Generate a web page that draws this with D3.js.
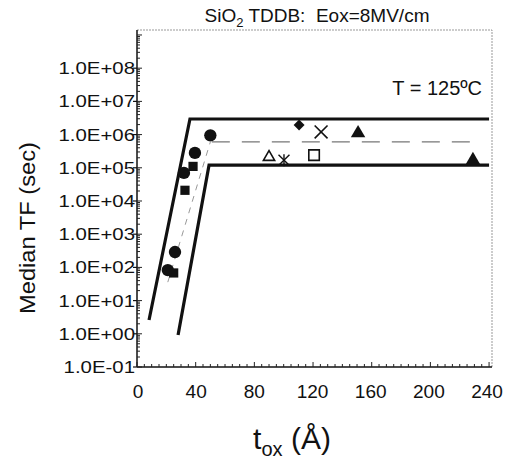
<!DOCTYPE html>
<html><head><meta charset="utf-8">
<script src="https://cdn.jsdelivr.net/npm/d3@7"></script>
<style>body{margin:0;background:#fff}svg{display:block}text{font-family:"Liberation Sans",Arial,sans-serif;fill:#111}</style>
</head><body><svg id="c" width="505" height="461"></svg>
<script>
// ---- data ----
const xTicks = [0, 40, 80, 120, 160, 200, 240];
const yTickExps = [-1, 0, 1, 2, 3, 4, 5, 6, 7, 8];
const yTickLabels = ["1.0E-01","1.0E+00","1.0E+01","1.0E+02","1.0E+03","1.0E+04","1.0E+05","1.0E+06","1.0E+07","1.0E+08"];

const filledCircles = [[50, 9.5e5], [39.5, 2.8e5], [32, 7e4], [25.9, 290], [21, 83]];
const filledSquares = [[38.2, 1.1e5], [32.7, 2.1e4], [25, 68]];
const filledDiamonds = [[110.5, 1.95e6]];
const crosses = [[125.5, 1.2e6]];
const filledTriangles = [[150.7, 1.1e6], [229, 1.7e5]];
const openTriangles = [[90, 2.1e5]];
const asterisks = [[100.2, 1.7e5]];
const openSquares = [[120.7, 2.4e5]];

const upperBound = [[8.2, 2.6], [36.1, 2.95e6], [240, 2.95e6]];
const lowerBound = [[28, 0.92], [49.1, 1.2e5], [240, 1.2e5]];
const medianSlope = [[21, 36], [50, 6e5]];
const medianFlat = [[51, 6e5], [228, 6e5]];

// ---- layout ----
const svg = d3.select("#c");
const L = 137, R = 492, T = 30, B = 367;
const x = d3.scaleLinear().domain([0, 242]).range([L, R]);
const y = d3.scaleLog().domain([0.1, Math.pow(10, 9.15)]).range([B, T]);

// frame (faint top/right)
svg.append("path").attr("d", `M${L},${T}H${R}V${B}`)
  .attr("fill", "none").attr("stroke", "#999").attr("stroke-width", 1).attr("stroke-dasharray", "2,1");

// axes
svg.append("line").attr("x1", L).attr("x2", L).attr("y1", T).attr("y2", B).attr("stroke", "#111").attr("stroke-width", 1.5);
svg.append("line").attr("x1", L).attr("x2", R).attr("y1", B).attr("y2", B).attr("stroke", "#111").attr("stroke-width", 1.5);

// y minor ticks
const yMinor = [];
for (let e = -1; e <= 9; e++) for (let m = 1; m <= 9; m++) { const v = m * Math.pow(10, e); if (v >= 0.1 && v <= Math.pow(10, 9.15)) yMinor.push(v); }
svg.append("g").selectAll("line").data(yMinor).join("line")
  .attr("x1", L).attr("x2", d => L + (Math.abs(Math.log10(d) % 1) < 1e-9 ? 5 : 3))
  .attr("y1", d => y(d)).attr("y2", d => y(d)).attr("stroke", "#222").attr("stroke-width", 1);
svg.append("g").selectAll("line").data(yTickExps).join("line")
  .attr("x1", L - 4).attr("x2", L).attr("y1", d => y(Math.pow(10, d))).attr("y2", d => y(Math.pow(10, d)))
  .attr("stroke", "#111").attr("stroke-width", 1.2);

// x minor ticks
svg.append("g").selectAll("line").data(d3.range(0, 241, 5)).join("line")
  .attr("x1", d => x(d)).attr("x2", d => x(d)).attr("y1", B).attr("y2", d => B - (d % 40 === 0 ? 5 : 3))
  .attr("stroke", "#222").attr("stroke-width", 1);

// y tick labels
svg.append("g").selectAll("text").data(yTickExps).join("text")
  .attr("transform", d => `translate(${L - 2},${y(Math.pow(10, d)) + 6}) scale(1.2,1)`)
  .attr("text-anchor", "end").attr("font-size", 17)
  .text((d, i) => yTickLabels[i]);

// x tick labels
svg.append("g").selectAll("text").data(xTicks).join("text")
  .attr("transform", d => `translate(${x(d) + 1 - d / 80},398) scale(1.06,1)`)
  .attr("text-anchor", "middle").attr("font-size", 18).text(d => d);

// title
const title = svg.append("text").attr("x", 317).attr("y", 22).attr("text-anchor", "middle").attr("font-size", 19);
title.append("tspan").text("SiO");
title.append("tspan").attr("font-size", 13).attr("dy", 5).text("2");
title.append("tspan").attr("dy", -5).text(" TDDB:\u00a0 Eox=8MV/cm");

// T label
svg.append("text").attr("x", 482).attr("y", 95).attr("text-anchor", "end").attr("font-size", 20).text("T = 125ºC");

// y axis label
svg.append("text").attr("transform", "translate(35,228) rotate(-90)").attr("text-anchor", "middle")
  .attr("font-size", 22).attr("textLength", 172).attr("lengthAdjust", "spacingAndGlyphs").text("Median TF (sec)");

// x axis label
const xl = svg.append("text").attr("x", 292).attr("y", 449).attr("text-anchor", "middle").attr("font-size", 30);
xl.append("tspan").text("t");
xl.append("tspan").attr("font-size", 20).attr("dy", 7).text("ox");
xl.append("tspan").attr("dy", -7).text(" (Å)");

// lines
const line = d3.line().x(d => x(d[0])).y(d => y(d[1]));
svg.append("path").attr("d", line(medianSlope)).attr("fill", "none").attr("stroke", "#999").attr("stroke-width", 1).attr("stroke-dasharray", "6,6");
svg.append("path").attr("d", line(medianFlat)).attr("fill", "none").attr("stroke", "#777").attr("stroke-width", 1.2).attr("stroke-dasharray", "18,12");
svg.append("path").attr("d", line(upperBound)).attr("fill", "none").attr("stroke", "#111").attr("stroke-width", 3.2);
svg.append("path").attr("d", line(lowerBound)).attr("fill", "none").attr("stroke", "#111").attr("stroke-width", 3.2);

// markers
const g = svg.append("g");
const sym = (data, type, size, fill, stroke, sw, rot) => g.append("g").selectAll("path").data(data).join("path")
  .attr("transform", d => `translate(${x(d[0])},${y(d[1])})` + (rot ? ` rotate(${rot})` : ""))
  .attr("d", d3.symbol().type(type).size(size)).attr("fill", fill).attr("stroke", stroke).attr("stroke-width", sw);
sym(filledCircles, d3.symbolCircle, 120, "#111", "none", 0);
sym(filledSquares, d3.symbolSquare, 85, "#111", "none", 0);
sym(filledDiamonds, d3.symbolSquare, 60, "#111", "none", 0, 45);
sym(filledTriangles, d3.symbolTriangle, 90, "#111", "none", 0);
sym(openTriangles, d3.symbolTriangle, 55, "none", "#111", 1.6);
sym(openSquares, d3.symbolSquare, 110, "none", "#111", 1.6);
sym(crosses, d3.symbolTimes, 110, "none", "#111", 1.6);
sym(asterisks, d3.symbolTimes, 80, "none", "#111", 1.4);
g.append("g").selectAll("line").data(asterisks).join("line")
  .attr("x1", d => x(d[0])).attr("x2", d => x(d[0])).attr("y1", d => y(d[1]) - 6).attr("y2", d => y(d[1]) + 6)
  .attr("stroke", "#111").attr("stroke-width", 1.4);
</script></body></html>
